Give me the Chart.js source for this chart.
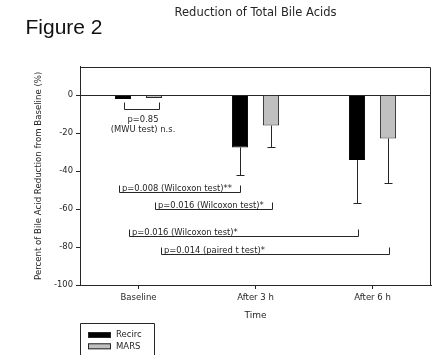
<!DOCTYPE html>
<html>
<head>
<meta charset="utf-8">
<script src="https://cdn.jsdelivr.net/npm/chart.js@4"></script>
<style>
  html, body { margin: 0; padding: 0; background: #fff; }
  #wrap { width: 434px; height: 355px; position: relative; }
</style>
</head>
<body>
<div id="wrap"><canvas id="chart" width="434" height="355"></canvas></div>
<script>
// === DATA ===
const categories = ['Baseline', 'After 3 h', 'After 6 h'];
const recirc = [-2, -27.5, -34.2];
const recircErr = [0, 14.6, 22.8];
const mars = [-1.5, -16, -22.8];
const marsErr = [0, 11.2, 23.7];
const yTicks = [0, -20, -40, -60, -80, -100];

// significance brackets (x in category units, y in %)
const bracketFrom = [-0.124, -0.167, 0.141, -0.081, 0.192];
const bracketTo = [0.175, 0.868, 1.141, 1.876, 2.141];
const bracketY = [-7.4, -51, -60, -74.2, -83.7];
const bracketText = [
  ['p=0.85', '(MWU test) n.s.'],
  ['p=0.008 (Wilcoxon test)**'],
  ['p=0.016 (Wilcoxon test)*'],
  ['p=0.016 (Wilcoxon test)*'],
  ['p=0.014 (paired t test)*']
];

const FONT = 'DejaVu Sans';
const INK = '#262626';

// === PLUGINS ===
const errorBars = {
  id: 'errorBars',
  afterDatasetsDraw(chart) {
    const ctx = chart.ctx;
    const y = chart.scales.y;
    ctx.save();
    ctx.strokeStyle = INK;
    ctx.lineWidth = 1;
    chart.data.datasets.forEach((ds, i) => {
      const meta = chart.getDatasetMeta(i);
      meta.data.forEach((bar, j) => {
        const e = ds.errors[j];
        if (!e) return;
        const x = Math.round(bar.x) + 0.5;
        const y0 = y.getPixelForValue(ds.data[j]);
        const y1 = Math.round(y.getPixelForValue(ds.data[j] - e)) + 0.5;
        ctx.beginPath();
        ctx.moveTo(x, y0);
        ctx.lineTo(x, y1);
        ctx.moveTo(x - 4, y1);
        ctx.lineTo(x + 4, y1);
        ctx.stroke();
      });
    });
    ctx.restore();
  }
};

const brackets = {
  id: 'brackets',
  afterDatasetsDraw(chart) {
    const ctx = chart.ctx;
    const xs = chart.scales.x, ys = chart.scales.y;
    ctx.save();
    ctx.strokeStyle = INK;
    ctx.fillStyle = INK;
    ctx.lineWidth = 1;
    ctx.font = '8.4px "' + FONT + '"';
    bracketY.forEach((v, i) => {
      const x0 = Math.round(xs.getPixelForValue(bracketFrom[i])) + 0.5;
      const x1 = Math.round(xs.getPixelForValue(bracketTo[i])) + 0.5;
      const yy = Math.round(ys.getPixelForValue(v)) + 0.5;
      ctx.beginPath();
      ctx.moveTo(x0, yy - 7);
      ctx.lineTo(x0, yy);
      ctx.lineTo(x1, yy);
      ctx.lineTo(x1, yy - 7);
      ctx.stroke();
      const lines = bracketText[i];
      if (lines.length > 1) {
        ctx.textAlign = 'center';
        ctx.textBaseline = 'middle';
        const cx = (x0 + x1) / 2 + 1;
        lines.forEach((t, k) => ctx.fillText(t, cx, yy + 10 + k * 10.5));
      } else {
        ctx.textAlign = 'left';
        ctx.textBaseline = 'bottom';
        ctx.fillText(lines[0], x0 + 2.5, yy + 0.5);
      }
    });
    ctx.restore();
  }
};

const frameAndExtras = {
  id: 'frameAndExtras',
  afterDraw(chart) {
    const ctx = chart.ctx;
    const a = chart.chartArea;
    ctx.save();
    ctx.strokeStyle = INK;
    ctx.lineWidth = 1;
    ctx.beginPath();
    ctx.moveTo(Math.round(a.left) + 0.5, Math.round(a.top) + 0.5);
    ctx.lineTo(Math.round(a.right) - 0.5, Math.round(a.top) + 0.5);
    ctx.lineTo(Math.round(a.right) - 0.5, Math.round(a.bottom));
    ctx.stroke();

    // Figure label
    ctx.fillStyle = '#111';
    ctx.font = '21px "Liberation Sans"';
    ctx.textAlign = 'left';
    ctx.textBaseline = 'alphabetic';
    ctx.fillText('Figure 2', 25.5, 33.5);

    // legend box
    const lx = Math.round(a.left) + 0.5;
    ctx.beginPath();
    ctx.moveTo(lx, 360);
    ctx.lineTo(lx, 323.5);
    ctx.lineTo(154.5, 323.5);
    ctx.lineTo(154.5, 360);
    ctx.stroke();
    ctx.font = '8.5px "' + FONT + '"';
    ctx.textBaseline = 'middle';
    chart.data.datasets.forEach((ds, i) => {
      const sy = 332 + i * 11.3;
      ctx.fillStyle = ds.backgroundColor;
      ctx.fillRect(88, sy, 23, 6);
      ctx.strokeRect(88.5, sy + 0.5, 22, 5);
      ctx.fillStyle = INK;
      ctx.fillText(ds.label, 116, sy + 3.2);
    });
    ctx.restore();
  }
};

// === CHART ===
new Chart(document.getElementById('chart'), {
  type: 'bar',
  data: {
    labels: categories,
    datasets: [
      { label: 'Recirc', data: recirc, errors: recircErr, backgroundColor: '#000000',
        borderColor: '#000000', borderWidth: 1 },
      { label: 'MARS', data: mars, errors: marsErr, backgroundColor: '#c0c0c0',
        borderColor: '#2a2a2a', borderWidth: 1 }
    ]
  },
  options: {
    responsive: false,
    animation: false,
    devicePixelRatio: 1,
    layout: { padding: { left: 0, right: 3, top: 0, bottom: 30 } },
    datasets: { bar: { categoryPercentage: 0.53, barPercentage: 0.52 } },
    plugins: {
      legend: { display: false },
      tooltip: { enabled: false },
      title: {
        display: true,
        text: 'Reduction of Total Bile Acids',
        fullSize: false,
        color: INK,
        font: { family: FONT, size: 11.5, weight: 'normal' },
        padding: { top: 6.5, bottom: 46.4 }
      }
    },
    scales: {
      x: {
        afterFit: s => { s.height = 40; },
        grid: { offset: false, drawOnChartArea: false, tickLength: 4, color: INK },
        border: { color: INK },
        ticks: { color: INK, padding: 4, font: { family: FONT, size: 8.5 } },
        title: { display: true, text: 'Time', color: INK,
                 font: { family: FONT, size: 9 }, padding: { top: 0, bottom: 3.9 } }
      },
      y: {
        min: -100,
        max: 15,
        afterFit: s => { s.width = 80; },
        afterBuildTicks: s => { s.ticks = yTicks.map(v => ({ value: v })); },
        grid: {
          color: c => (c.tick && c.tick.value === 0) ? INK : 'rgba(0,0,0,0)',
          tickColor: INK, tickLength: 4
        },
        border: { color: INK },
        ticks: { color: INK, padding: 3, font: { family: FONT, size: 8.4 } },
        title: { display: true, text: 'Percent of Bile Acid Reduction from Baseline (%)',
                 color: INK, font: { family: FONT, size: 8.6 }, padding: { top: 33.8 } }
      }
    }
  },
  plugins: [errorBars, brackets, frameAndExtras]
});
</script>
</body>
</html>
